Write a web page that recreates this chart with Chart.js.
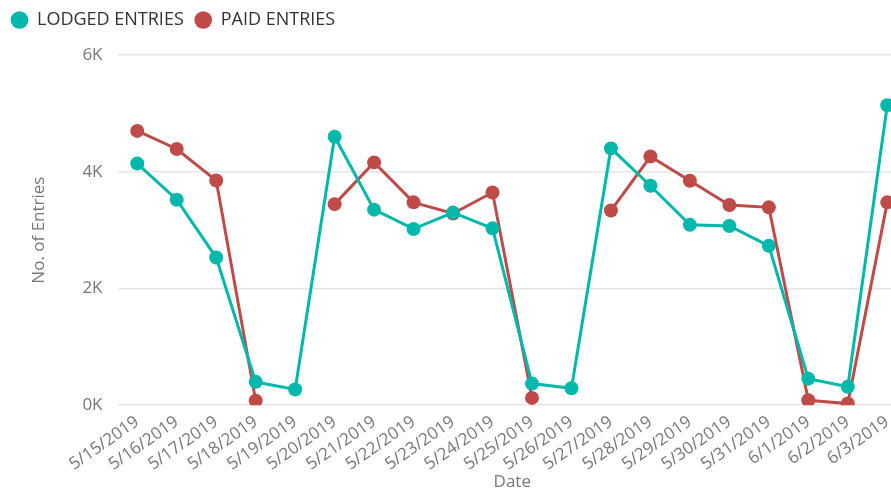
<!DOCTYPE html>
<html>
<head>
<meta charset="utf-8">
<script src="https://cdn.jsdelivr.net/npm/chart.js@4"></script>
<style>
  html, body { margin: 0; padding: 0; background: #fff; overflow: hidden; }
  #wrap { width: 914px; height: 492px; }
</style>
</head>
<body>
<div id="wrap"><canvas id="chart"></canvas></div>
<script>
// Dados
const dates = ['5/15/2019', '5/16/2019', '5/17/2019', '5/18/2019', '5/19/2019', '5/20/2019', '5/21/2019',
  '5/22/2019', '5/23/2019', '5/24/2019', '5/25/2019', '5/26/2019', '5/27/2019', '5/28/2019', '5/29/2019',
  '5/30/2019', '5/31/2019', '6/1/2019', '6/2/2019', '6/3/2019'];
const lodged = [4140, 3520, 2530, 400, 270, 4600, 3350, 3020, 3300, 3030, 370, 290, 4400, 3760, 3090,
  3070, 2730, 455, 315, 5140];
const paid = [4700, 4390, 3850, 75, null, 3445, 4160, 3475, 3285, 3645, 125, null, 3335, 4260, 3845,
  3430, 3390, 85, 28, 3475];
const yTicks = [0, 2000, 4000, 6000];

const fontFamily = "'Segoe UI', 'Open Sans', sans-serif";
const teal = '#01B8AA';
const red = '#BE4B48';

// Espaço extra por baixo da legenda
const legendSpacer = {
  id: 'legendSpacer',
  beforeInit(chart) {
    const fit = chart.legend.fit;
    chart.legend.fit = function () {
      fit.bind(chart.legend)();
      this.height += 16;
    };
  }
};

new Chart(document.getElementById('chart'), {
  type: 'line',
  data: {
    labels: dates,
    datasets: [
      { label: 'LODGED ENTRIES', data: lodged, borderColor: teal, backgroundColor: teal },
      { label: 'PAID ENTRIES', data: paid, borderColor: red, backgroundColor: red }
    ]
  },
  plugins: [legendSpacer],
  options: {
    responsive: true,
    maintainAspectRatio: false,
    animation: false,
    spanGaps: false,
    layout: { padding: { left: 0, right: 0, top: 0, bottom: 0 } },
    elements: {
      line: { borderWidth: 3, tension: 0 },
      point: { radius: 7, hoverRadius: 7, borderWidth: 0 }
    },
    plugins: {
      tooltip: { enabled: false },
      legend: {
        position: 'top',
        align: 'start',
        labels: {
          usePointStyle: true,
          pointStyle: 'circle',
          boxWidth: 17,
          boxHeight: 12.5,
          padding: 11,
          color: '#333',
          font: { family: fontFamily, size: 18 }
        }
      }
    },
    scales: {
      x: {
        offset: true,
        grid: { display: false },
        border: { display: false },
        ticks: {
          color: '#777',
          font: { family: fontFamily, size: 17, lineHeight: 1 },
          minRotation: 35,
          maxRotation: 35,
          autoSkip: false,
          padding: 0
        },
        title: {
          display: true,
          text: 'Date',
          color: '#777',
          font: { family: fontFamily, size: 17, lineHeight: 1.1 },
          padding: { top: 0, bottom: 0 }
        }
      },
      y: {
        min: 0,
        max: 6000,
        afterBuildTicks: axis => { axis.ticks = yTicks.map(v => ({ value: v })); },
        grid: { color: '#e6e6e6', lineWidth: 1.5, drawTicks: false },
        border: { display: false },
        ticks: {
          color: '#777',
          font: { family: fontFamily, size: 17 },
          padding: 15,
          callback: v => (v / 1000) + 'K'
        },
        title: {
          display: true,
          text: 'No. of Entries',
          color: '#777',
          font: { family: fontFamily, size: 17 },
          padding: { top: 29, bottom: 18 }
        }
      }
    }
  }
});
</script>
</body>
</html>
